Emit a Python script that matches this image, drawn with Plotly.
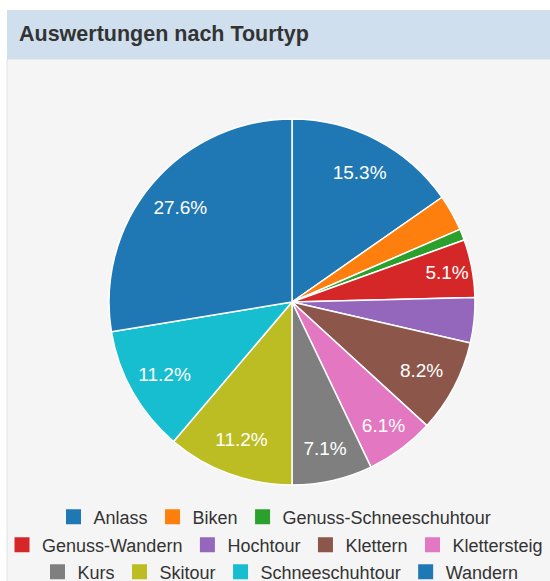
import plotly.graph_objects as go

# ---- data ----
categories = ["Anlass", "Biken", "Genuss-Schneeschuhtour", "Genuss-Wandern", "Hochtour",
              "Klettern", "Klettersteig", "Kurs", "Skitour", "Schneeschuhtour", "Wandern"]
values = [15.3, 3.2, 1.0, 5.1, 4.0, 8.2, 6.1, 7.1, 11.2, 11.2, 27.6]
colors = ["#1f77b4", "#ff7f0e", "#2ca02c", "#d62728", "#9467bd", "#8c564b",
          "#e377c2", "#7f7f7f", "#bcbd22", "#17becf", "#1f77b4"]
legend_rows = [categories[0:3], categories[3:7], categories[7:11]]
title_text = "Auswertungen nach Tourtyp"

W, H = 550, 581
FONT = "Liberation Sans, Arial, Helvetica, sans-serif"

# pie geometry (pixels)
cx, cy, r = 292, 302, 183
dom_x = [(cx - r) / W, (cx + r) / W]
dom_y = [1 - (cy + r) / H, 1 - (cy - r) / H]

fig = go.Figure()

# base pie
fig.add_trace(go.Pie(
    labels=categories, values=values, sort=False, direction="clockwise", rotation=0,
    marker=dict(colors=colors, line=dict(color="white", width=1.5)),
    textinfo="none", showlegend=False, domain=dict(x=dom_x, y=dom_y),
    hovertemplate="%{label}: %{percent:.1%}<extra></extra>",
))

# label ring (transparent) so the library places percentage labels near the rim
total = sum(values)
templates = ["%{percent:.1%}" if v / total >= 0.05 else "" for v in values]
fig.add_trace(go.Pie(
    labels=categories, values=values, sort=False, direction="clockwise", rotation=0,
    hole=0.6,
    marker=dict(colors=["rgba(0,0,0,0)"] * len(values), line=dict(width=0)),
    texttemplate=templates, textposition="inside", insidetextorientation="horizontal",
    textfont=dict(color="white", size=19, family=FONT),
    showlegend=False, hoverinfo="skip", domain=dict(x=dom_x, y=dom_y),
))

# legend entries (three centred rows)
legend_names = ["legend", "legend2", "legend3"]
for row_i, row in enumerate(legend_rows):
    for name in row:
        idx = categories.index(name)
        fig.add_trace(go.Scatter(
            x=[None], y=[None], mode="markers", name=name,
            marker=dict(symbol="square", size=15, color=colors[idx]),
            legend=legend_names[row_i], hoverinfo="skip",
        ))

row_y = [517, 545, 572]
row_x = [0.5, 0.5, 0.51]
legend_common = dict(orientation="h", xanchor="center", yanchor="middle",
                     font=dict(family=FONT, size=18, color="#333333"),
                     bgcolor="rgba(0,0,0,0)", borderwidth=0, itemclick=False,
                     itemdoubleclick=False)

fig.update_layout(
    width=W, height=H,
    margin=dict(l=0, r=0, t=0, b=0, autoexpand=False),
    paper_bgcolor="white", plot_bgcolor="rgba(0,0,0,0)",
    xaxis=dict(visible=False), yaxis=dict(visible=False),
    title=dict(text="<b>" + title_text + "</b>", x=19 / W, xref="container", xanchor="left",
               y=1 - 33 / H, yref="container", yanchor="middle",
               font=dict(family=FONT, size=21.5, color="#333333")),
    legend=dict(x=row_x[0], y=1 - row_y[0] / H, **legend_common),
    legend2=dict(x=row_x[1], y=1 - row_y[1] / H, **legend_common),
    legend3=dict(x=row_x[2], y=1 - row_y[2] / H, **legend_common),
    shapes=[
        dict(type="rect", xref="paper", yref="paper", x0=7 / W, x1=1.01, y0=-0.01, y1=1 - 59 / H,
             fillcolor="#f5f5f5", line=dict(color="#e2e2e2", width=1), layer="below"),
        dict(type="rect", xref="paper", yref="paper", x0=7 / W, x1=1.01, y0=1 - 59 / H, y1=1 - 10 / H,
             fillcolor="#cfdfee", line=dict(width=0), layer="below"),
    ],
)

fig.write_html(
    "out.html",
    config={"displayModeBar": False},
    post_script="document.body.style.margin='0';document.body.style.overflow='hidden';",
)
